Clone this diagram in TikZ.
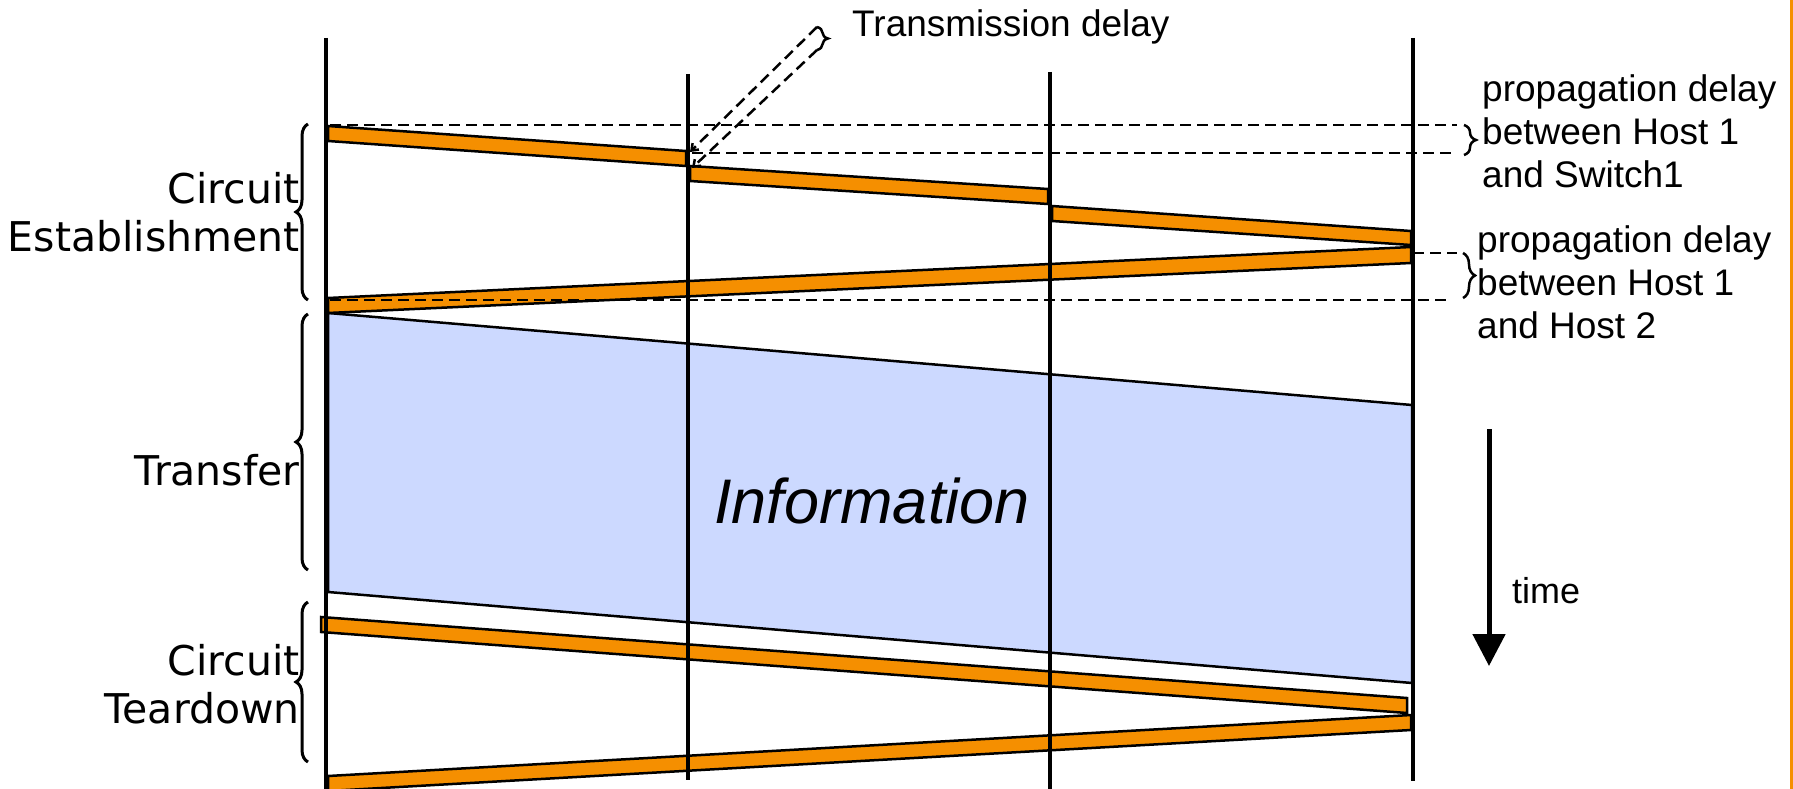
\documentclass[tikz,border=0pt]{standalone}
\usepackage{fontspec}
\setmainfont{Liberation Sans}
\newfontfamily\lblfont{DejaVu Sans}
\usetikzlibrary{arrows.meta,decorations.pathreplacing}
\definecolor{msgorange}{RGB}{245,143,0}
\definecolor{infoblue}{RGB}{204,217,255}
\begin{document}
\begin{tikzpicture}[x=1pt,y=-1pt,
  hostline/.style={line width=4.5pt},
  msg/.style={fill=msgorange,draw=black,line width=2.5pt,line join=miter},
  guide/.style={line width=2.5pt,dash pattern=on 11pt off 6pt},
  bracestyle/.style={line width=3pt,decorate,decoration={brace,amplitude=12pt}},
  lbl/.style={font=\lblfont\fontsize{41}{48}\selectfont,inner sep=0pt,align=right,anchor=north east},
  note/.style={font=\fontsize{37}{43}\selectfont,inner sep=0pt,align=left,anchor=north west}]
\useasboundingbox (0,0) rectangle (1793,789);

% host / switch time lines
\coordinate (h1t) at (326,38);  \coordinate (h1b) at (326,795);
\coordinate (s1t) at (688,74);  \coordinate (s1b) at (688,780);
\coordinate (s2t) at (1050,72); \coordinate (s2b) at (1050,795);
\coordinate (h2t) at (1413,38); \coordinate (h2b) at (1413,781);

% information (transfer) region
\filldraw[fill=infoblue,draw=black,line width=2.5pt]
  (328,313) -- (1412,405) -- (1412,683) -- (328,592) -- cycle;

% circuit establishment messages
\filldraw[msg] (328,126) -- (686,151) -- (686,166) -- (328,141) -- cycle;
\filldraw[msg] (690,166) -- (1048,189) -- (1048,204) -- (690,181) -- cycle;
\filldraw[msg] (1052,206) -- (1411,231) -- (1411,245) -- (1052,221) -- cycle;
\filldraw[msg] (1411,247) -- (328,298) -- (328,313) -- (1411,263) -- cycle;

% teardown messages
\filldraw[msg] (321,617) -- (1407,698) -- (1407,713) -- (321,632) -- cycle;
\filldraw[msg] (1411,715) -- (328,776) -- (328,791) -- (1411,730) -- cycle;

% time lines on top
\draw[hostline] (h1t) -- (h1b);
\draw[hostline] (s1t) -- (s1b);
\draw[hostline] (s2t) -- (s2b);
\draw[hostline] (h2t) -- (h2b);

% dashed guides
\coordinate (d1a) at (330,125);  \coordinate (d1b) at (1457,125);
\coordinate (d2a) at (692,153);  \coordinate (d2b) at (1457,153);
\coordinate (d3a) at (1413,253); \coordinate (d3b) at (1457,253);
\coordinate (d4a) at (330,300);  \coordinate (d4b) at (1452,300);
\draw[guide] (d1a) -- (d1b);
\draw[guide] (d2a) -- (d2b);
\draw[guide] (d3a) -- (d3b);
\draw[guide] (d4a) -- (d4b);

% transmission delay
\coordinate (txa) at (817,27); \coordinate (txb) at (817,50);
\coordinate (sw1) at (690,152); \coordinate (sw2) at (692,168);
\draw[bracestyle,line width=2.5pt,decoration={amplitude=11pt}] (txa) -- (txb);
\draw[guide,-{Straight Barb[length=6pt,width=9pt]}] (txa) -- (sw1);
\draw[guide,-{Straight Barb[length=6pt,width=9pt]}] (txb) -- (sw2);
\node[font=\fontsize{37}{43}\selectfont,inner sep=0pt,anchor=base west] (tx) at (852,37) {Transmission delay};

% propagation delay braces and notes
\draw[bracestyle,line width=2.5pt] (1464,125) -- (1464,155);
\draw[bracestyle,line width=2.5pt] (1463,253) -- (1463,298);
\node[note] (pd1) at (1482,74) {propagation delay\\between Host 1\\and Switch1};
\node[note] (pd2) at (1477,225) {propagation delay\\between Host 1\\and Host 2};

% phase braces and labels
\draw[bracestyle] (308,300) -- (308,124);
\draw[bracestyle] (308,570) -- (308,314);
\draw[bracestyle] (308,762) -- (308,602);
\node[lbl] (est) at (300,172) {Circuit\\Establishment};
\node[lbl] (xfer) at (300,454) {Transfer};
\node[lbl] (tear) at (300,644) {Circuit\\Teardown};

% information label
\node[font=\itshape\fontsize{63}{70}\selectfont,inner sep=0pt] (info) at (872,501) {Information};

% time arrow
\coordinate (tarr1) at (1489,429); \coordinate (tarr2) at (1489,666);
\draw[line width=5pt,-{Triangle[width=32pt,length=32pt]}] (tarr1) -- (tarr2);
\node[font=\fontsize{36}{43}\selectfont,inner sep=0pt,anchor=base west] (time) at (1512,603) {time};

% right border
\draw[msgorange,line width=3pt] (1791,0) -- (1791,789);
\end{tikzpicture}
\end{document}
